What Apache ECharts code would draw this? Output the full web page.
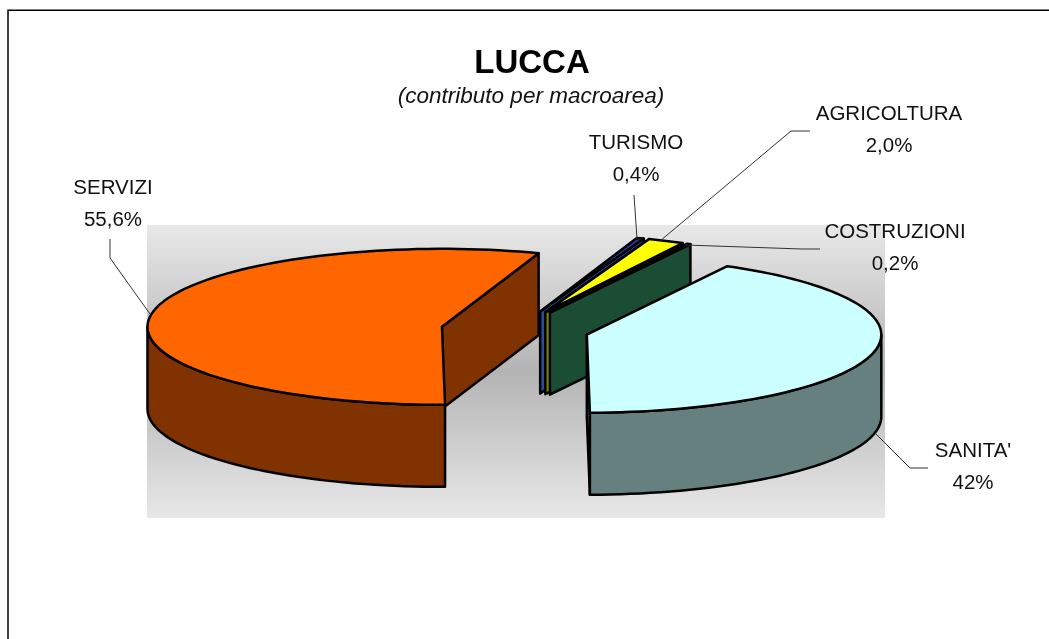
<!DOCTYPE html>
<html>
<head>
<meta charset="utf-8">
<title>LUCCA</title>
<style>
  html, body { margin: 0; padding: 0; background: #fff; }
  #main { width: 1049px; height: 639px; }
</style>
<script src="https://cdn.jsdelivr.net/npm/echarts@6/dist/echarts.min.js"></script>
</head>
<body>
<div id="main"></div>
<script>
// clockwise from the first slice
var sliceNames = ['SERVIZI', 'TURISMO', 'AGRICOLTURA', 'COSTRUZIONI', "SANITA'"];
var sliceValues = [55.6, 0.4, 2.0, 0.2, 42];
var sliceLabels = ['55,6%', '0,4%', '2,0%', '0,2%', '42%'];

var topColors = ['#FF6600', '#333399', '#FFFF00', '#339966', '#CCFFFF'];
var sideColors = ['#803300', '#2B4A99', '#808000', '#1A4D33', '#668080'];

// pie layout, in pixels
var pie = { cx: 515, cy: 330, rx: 294.5, ry: 78, depth: 82, explode: 74, startAngle: 179.4 };

// label centre and leader line for every slice
var labelBoxes = [
    { x: 113, y: 204, leader: [[110, 239], [110, 258], [150, 314]] },
    { x: 636, y: 159, leader: [[634, 195], [637, 239]] },
    { x: 889, y: 130, leader: [[810, 131], [791, 131], [660, 241]] },
    { x: 895, y: 248, leader: [[820, 249], [802, 249], [685, 245]] },
    { x: 973, y: 467, leader: [[875, 433], [910, 468], [928, 468]] }
];

var FONT = '"Liberation Sans", Arial, sans-serif';
var total = sliceValues.reduce(function(a, b) { return a + b; }, 0);

function sliceAngles(index) {
    var sum = 0;
    for (var i = 0; i < index; i++) sum += sliceValues[i];
    var from = pie.startAngle + sum / total * 360;
    var to = from + sliceValues[index] / total * 360;
    // past the top of the pie, so the wall test below sees plain angles
    if (from >= 360) {
        from -= 360;
        to -= 360;
    }
    return [from, to];
}

function rad(deg) {
    return deg * Math.PI / 180;
}

// angle is clockwise from the top, as in a normal pie
function rimPoint(centre, deg, drop) {
    return [
        centre[0] + pie.rx * Math.sin(rad(deg)),
        centre[1] - pie.ry * Math.cos(rad(deg)) + (drop || 0)
    ];
}

function arcPoints(centre, from, to, drop) {
    var pts = [];
    var steps = Math.max(2, Math.ceil(Math.abs(to - from) / 2));
    for (var i = 0; i <= steps; i++) {
        pts.push(rimPoint(centre, from + (to - from) * i / steps, drop));
    }
    return pts;
}

function polygon(points, fill) {
    return {
        type: 'polygon',
        shape: { points: points },
        style: { fill: fill, stroke: '#000', lineWidth: 2.5, lineJoin: 'round' }
    };
}

function renderSlice(params) {
    var i = params.dataIndex;
    var angles = sliceAngles(i);
    var from = angles[0], to = angles[1];
    var mid = (from + to) / 2;
    var centre = [
        pie.cx + pie.explode * Math.sin(rad(mid)),
        pie.cy - pie.explode * pie.ry / pie.rx * Math.cos(rad(mid))
    ];
    var children = [];
    var endNorm = ((to % 360) + 360) % 360;

    // cut face on the clockwise end, seen only on the right half of the pie
    if (endNorm > 0 && endNorm < 180) {
        var outer = rimPoint(centre, to);
        children.push(polygon([
            centre, outer,
            [outer[0], outer[1] + pie.depth],
            [centre[0], centre[1] + pie.depth]
        ], sideColors[i]));
    }

    // outer wall, only the part facing the viewer
    var wallFrom = Math.max(from, 90);
    var wallTo = Math.min(to, 270);
    if (wallTo > wallFrom) {
        children.push(polygon(
            arcPoints(centre, wallFrom, wallTo, 0).concat(arcPoints(centre, wallTo, wallFrom, pie.depth)),
            sideColors[i]
        ));
    }

    // top
    children.push(polygon([centre].concat(arcPoints(centre, from, to, 0)), topColors[i]));

    var box = labelBoxes[i];
    children.push({
        type: 'polyline',
        shape: { points: box.leader },
        style: { fill: null, stroke: '#333', lineWidth: 1 }
    });
    children.push({
        type: 'text',
        x: box.x,
        y: box.y,
        style: {
            text: sliceNames[i] + '\n' + sliceLabels[i],
            font: '20.5px ' + FONT,
            fill: '#111',
            align: 'center',
            verticalAlign: 'middle',
            lineHeight: 32
        }
    });
    return { type: 'group', children: children };
}

var myChart = echarts.init(document.getElementById('main'));

var option = {
    animation: false,
    backgroundColor: '#fff',
    graphic: [
        {
            // the frame runs off the picture on the right and at the bottom
            type: 'polyline',
            silent: true,
            shape: { points: [[8, 639], [8, 10.25], [1049, 10.25]] },
            style: { fill: null, stroke: '#000', lineWidth: 1.5 }
        },
        {
            type: 'rect',
            silent: true,
            shape: { x: 147, y: 225, width: 738, height: 293 },
            style: {
                fill: new echarts.graphic.LinearGradient(0, 0, 0, 1, [
                    { offset: 0, color: '#E8E8E8' },
                    { offset: 0.5, color: '#B4B4B4' },
                    { offset: 1, color: '#E8E8E8' }
                ])
            }
        },
        {
            type: 'text',
            silent: true,
            x: 532,
            y: 64,
            style: { text: 'LUCCA', font: 'bold 33px ' + FONT, fill: '#000', align: 'center', verticalAlign: 'middle' }
        },
        {
            type: 'text',
            silent: true,
            x: 531,
            y: 97,
            style: { text: '(contributo per macroarea)', font: 'italic 22.5px ' + FONT, fill: '#111', align: 'center', verticalAlign: 'middle' }
        }
    ],
    series: [{
        type: 'custom',
        coordinateSystem: 'none',
        silent: true,
        renderItem: renderSlice,
        data: sliceValues
    }]
};

myChart.setOption(option);
</script>
</body>
</html>
